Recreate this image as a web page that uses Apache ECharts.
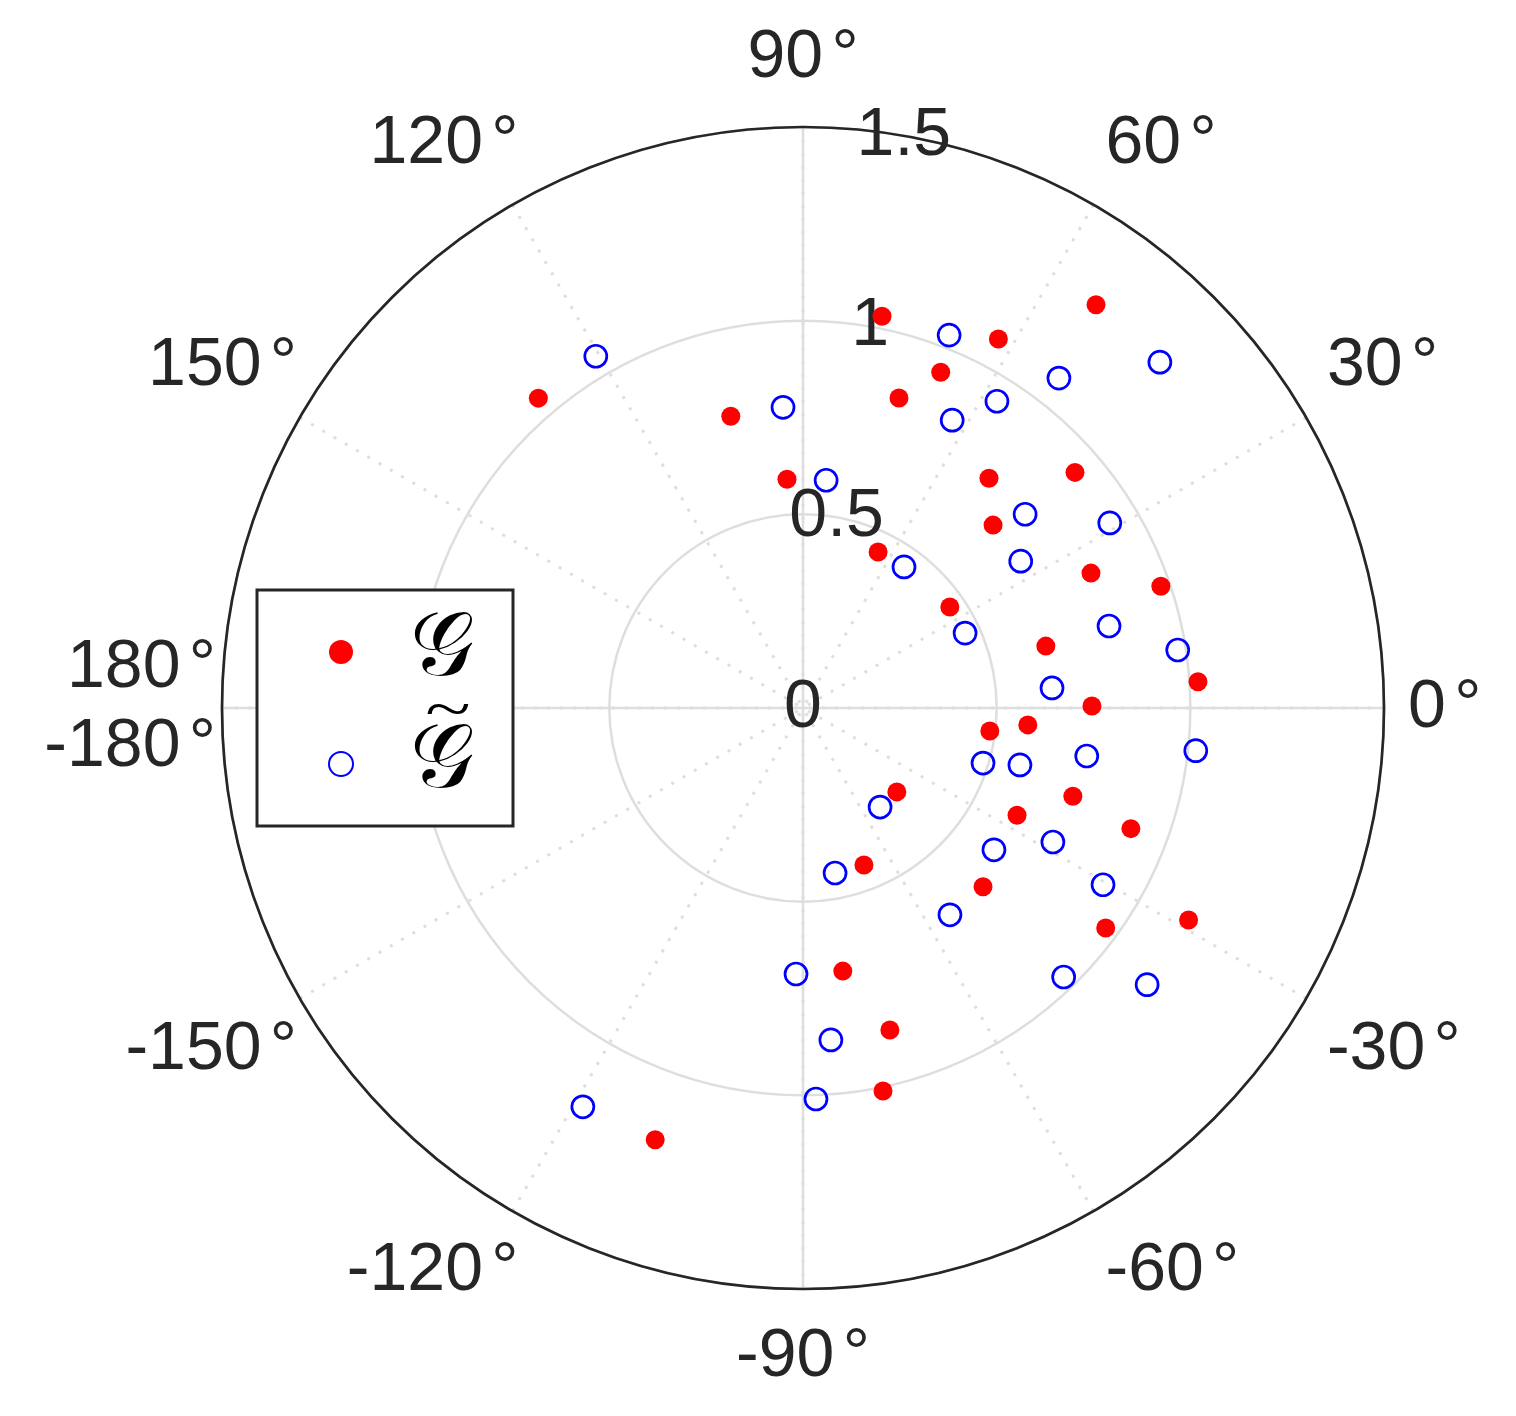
<!DOCTYPE html>
<html>
<head>
<meta charset="utf-8">
<script src="https://cdn.jsdelivr.net/npm/echarts@6/dist/echarts.min.js"></script>
<style>
  html, body { margin: 0; padding: 0; background: #fff; }
  #chart { width: 1516px; height: 1416px; }
</style>
</head>
<body>
<div id="chart"></div>
<script>
// -- Data: radius and angle (degrees) --
const gRadius = [1.287, 1.032, 1.078, 0.937, 0.838, 1.052, 0.776, 0.592, 0.763, 0.929, 0.681,
  0.447, 0.821, 0.976, 0.460, 0.647, 1.022, 0.746, 0.582, 0.486, 0.733, 0.618, 0.902, 0.325,
  0.435, 0.655, 1.136, 0.966, 0.687, 0.861, 1.010, 1.178];
const gAngle = [54.0, 78.6, 62.1, 67.7, 72.8, 130.5, 103.9, 94.0, 51.0, 40.9, 43.9,
  64.3, 25.1, 18.8, 34.5, 14.3, 3.8, 0.4, -4.3, -7.0, -18.1, -26.6, -20.2, -41.8,
  -68.8, -44.8, -28.8, -36.0, -81.4, -74.9, -78.2, -108.9];

const gtRadius = [1.034, 1.283, 1.078, 0.937, 1.054, 0.778, 0.837, 0.591, 0.761, 0.925, 0.678,
  0.448, 0.818, 0.979, 0.461, 0.645, 1.020, 0.743, 0.579, 0.486, 0.732, 0.614, 0.899, 0.324,
  0.434, 0.655, 1.140, 0.967, 0.687, 0.860, 1.010, 1.176];
const gtAngle = [68.6, 44.1, 52.2, 57.7, 120.5, 93.8, 62.6, 84.2, 41.1, 31.1, 34.0,
  54.4, 15.0, 8.8, 24.8, 4.6, -6.2, -9.6, -14.7, -17.0, -28.2, -36.6, -30.5, -52.1,
  -79.0, -54.6, -38.8, -45.9, -91.5, -85.2, -88.1, -118.9];

const radiusTicks = [0, 0.5, 1, 1.5];
const seriesNames = ['G', 'G~'];
const legendText = { 'G': '\u{1D4A2}', 'G~': '\u{1D4A2}' };

const TEXT = '#262626';
const GRID = '#dedede';
const FONT = "'Liberation Sans', Arial, Helvetica, sans-serif";
const CENTER = [803, 708];
const R = 581;

const toPolar = (rs, as) => rs.map((r, i) => [r, (as[i] + 360) % 360]);

// a small-font space token keeps the degree sign a little apart from the number
const DEG = '{s| }\u00b0';
function angleText(v) {
  if (v === 180) return '180' + DEG + '\n-180' + DEG;
  const a = v > 180 ? v - 360 : v;
  return a + DEG;
}
// right half labels, top/bottom labels, left half labels are placed by separate axes
const isRight = v => v < 90 || v > 270;
const isLeft = v => v > 90 && v < 270;
const isVert = v => v === 90 || v === 270;

const labelBase = {
  color: TEXT, fontSize: 68, fontFamily: FONT, lineHeight: 79, showMaxLabel: false,
  rich: { s: { color: TEXT, fontSize: 30, fontFamily: FONT, lineHeight: 79 } }
};
const hiddenAxis = {
  axisLine: { show: false }, axisTick: { show: false }, splitLine: { show: false }
};

const chart = echarts.init(document.getElementById('chart'), null, { renderer: 'canvas' });

chart.setOption({
  animation: false,
  backgroundColor: '#fff',
  polar: [
    { center: CENTER, radius: [0, R] },
    { center: CENTER, radius: [0, R] },
    { center: CENTER, radius: [0, R] },
    { center: [CENTER[0] + 18, CENTER[1]], radius: [0, R] }
  ],
  angleAxis: [
    {
      polarIndex: 0, type: 'value', min: 0, max: 360, interval: 30,
      startAngle: 0, clockwise: false,
      axisLine: { lineStyle: { color: TEXT, width: 2.7 } },
      axisTick: { show: false },
      axisLabel: Object.assign({}, labelBase, {
        margin: 24, formatter: v => isRight(v) ? angleText(v) : ''
      }),
      splitLine: { lineStyle: { color: GRID, width: 3, type: [3, 10] } },
      z: 3
    },
    {
      // solid cross at 0/90/180/270 plus the top and bottom labels
      polarIndex: 1, type: 'value', min: 0, max: 360, interval: 90,
      startAngle: 0, clockwise: false,
      axisLine: { show: false }, axisTick: { show: false },
      axisLabel: Object.assign({}, labelBase, {
        margin: 29, formatter: v => isVert(v) ? angleText(v) : ''
      }),
      splitLine: { lineStyle: { color: GRID, width: 2.5 } },
      z: 1
    },
    {
      polarIndex: 2, type: 'value', min: 0, max: 360, startAngle: 80, show: false
    },
    {
      polarIndex: 3, type: 'value', min: 0, max: 360, interval: 30,
      startAngle: 0, clockwise: false,
      ...hiddenAxis,
      axisLabel: Object.assign({}, labelBase, {
        margin: 24, formatter: v => isLeft(v) ? angleText(v) : ''
      }),
      z: 3
    }
  ],
  radiusAxis: [
    {
      polarIndex: 0, min: 0, max: 1.5, interval: 0.5,
      axisLine: { show: false }, axisTick: { show: false }, axisLabel: { show: false },
      splitLine: { lineStyle: { color: GRID, width: 2.5 } },
      z: 1
    },
    { polarIndex: 1, min: 0, max: 1.5, show: false },
    {
      // radius tick labels along the 80 degree direction
      polarIndex: 2, min: 0, max: 1.5, interval: 0.5,
      ...hiddenAxis,
      axisLabel: {
        margin: 0, rotate: 0, align: 'center', verticalAlign: 'middle',
        color: TEXT, fontSize: 68, fontFamily: FONT,
        formatter: v => radiusTicks.includes(v) ? String(v) : ''
      },
      z: 4
    },
    { polarIndex: 3, min: 0, max: 1.5, show: false }
  ],
  legend: {
    orient: 'vertical',
    left: 257, top: 590,
    padding: [17, 39, 17, 71],
    itemWidth: 24, itemHeight: 24, itemGap: 22,
    backgroundColor: '#fff',
    borderColor: TEXT, borderWidth: 3, borderRadius: 0,
    formatter: name => legendText[name],
    textStyle: {
      color: '#000', fontSize: 90, lineHeight: 90,
      fontFamily: "'DejaVu Serif', serif",
      padding: [0, 0, 0, 52]
    },
    data: seriesNames,
    z: 10
  },
  graphic: [
    {
      // tilde accent over the second legend entry
      type: 'text', x: 448, y: 713, scaleX: 1.5, z: 20,
      style: {
        text: '~', fill: '#000', align: 'center', verticalAlign: 'middle',
        font: "56px 'Liberation Serif', serif"
      }
    }
  ],
  series: [
    {
      name: seriesNames[0], type: 'scatter', coordinateSystem: 'polar', polarIndex: 0,
      symbol: 'circle', symbolSize: 19,
      itemStyle: { color: '#ff0000', opacity: 1 },
      data: toPolar(gRadius, gAngle), z: 5
    },
    {
      name: seriesNames[1], type: 'scatter', coordinateSystem: 'polar', polarIndex: 0,
      symbol: 'circle', symbolSize: 22,
      itemStyle: { color: 'rgba(255,255,255,0)', borderColor: '#0000ff', borderWidth: 2.7, opacity: 1 },
      data: toPolar(gtRadius, gtAngle), z: 5
    }
  ]
});

window.addEventListener('resize', () => chart.resize());
</script>
</body>
</html>
